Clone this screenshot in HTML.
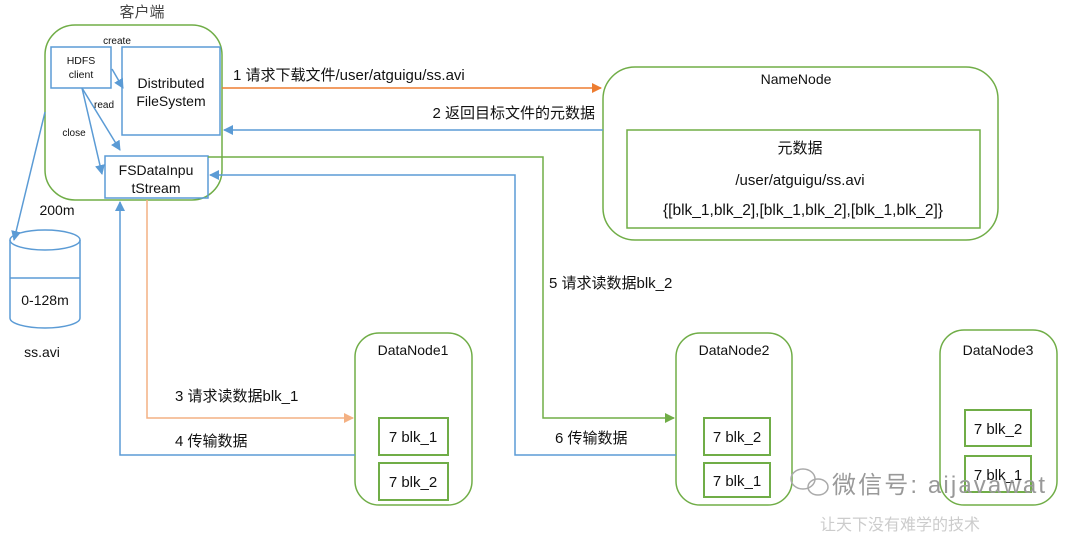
<!DOCTYPE html>
<html><head><meta charset="utf-8"><style>
body{margin:0;background:#fff;width:1080px;height:533px;overflow:hidden}
text{font-family:"Liberation Sans","Noto Sans CJK SC",sans-serif;fill:#111}
</style></head><body>
<svg width="1080" height="533" viewBox="0 0 1080 533">
<defs>
<marker id="b" markerWidth="10" markerHeight="10" refX="9" refY="5" orient="auto" markerUnits="userSpaceOnUse"><path d="M0,0L10,5L0,10z" fill="#5b9bd5"/></marker>
<marker id="o" markerWidth="10" markerHeight="10" refX="9" refY="5" orient="auto" markerUnits="userSpaceOnUse"><path d="M0,0L10,5L0,10z" fill="#ed7d31"/></marker>
<marker id="lo" markerWidth="10" markerHeight="10" refX="9" refY="5" orient="auto" markerUnits="userSpaceOnUse"><path d="M0,0L10,5L0,10z" fill="#f4b183"/></marker>
<marker id="g" markerWidth="10" markerHeight="10" refX="9" refY="5" orient="auto" markerUnits="userSpaceOnUse"><path d="M0,0L10,5L0,10z" fill="#70ad47"/></marker>
</defs>
<g fill="none" stroke-width="1.5">
<rect x="45" y="25" width="177" height="175" rx="30" stroke="#70ad47"/>
<rect x="51" y="47" width="60" height="41" stroke="#5b9bd5"/>
<rect x="122" y="47" width="98" height="88" stroke="#5b9bd5"/>
<rect x="105" y="156" width="103" height="42" stroke="#5b9bd5"/>
<rect x="603" y="67" width="395" height="173" rx="32" stroke="#70ad47"/>
<rect x="627" y="130" width="353" height="98" stroke="#70ad47"/>
<rect x="355" y="333" width="117" height="172" rx="24" stroke="#70ad47"/>
<rect x="676" y="333" width="116" height="172" rx="24" stroke="#70ad47"/>
<rect x="940" y="330" width="117" height="175" rx="24" stroke="#70ad47"/>
<rect x="379" y="418" width="69" height="37" stroke="#70ad47" stroke-width="2"/>
<rect x="379" y="463" width="69" height="37" stroke="#70ad47" stroke-width="2"/>
<rect x="704" y="418" width="66" height="37" stroke="#70ad47" stroke-width="2"/>
<rect x="704" y="463" width="66" height="34" stroke="#70ad47" stroke-width="2"/>
<rect x="965" y="410" width="66" height="36" stroke="#70ad47" stroke-width="2"/>
<rect x="965" y="456" width="66" height="36" stroke="#70ad47" stroke-width="2"/>
<path d="M10,240 V318 A35,10 0 0 0 80,318 V240" stroke="#5b9bd5"/>
<ellipse cx="45" cy="240" rx="35" ry="10" stroke="#5b9bd5"/>
<path d="M10,278 H80" stroke="#5b9bd5"/>
<path d="M112,69 L123,88" stroke="#5b9bd5" marker-end="url(#b)"/>
<path d="M82,88 L120,150" stroke="#5b9bd5" marker-end="url(#b)"/>
<path d="M82,88 L102,174" stroke="#5b9bd5" marker-end="url(#b)"/>
<path d="M45,112 L14,240" stroke="#5b9bd5" marker-end="url(#b)"/>
<path d="M222,88 H601" stroke="#ed7d31" marker-end="url(#o)"/>
<path d="M603,130 H224" stroke="#5b9bd5" marker-end="url(#b)"/>
<path d="M208,157 H543 V418 H674" stroke="#70ad47" marker-end="url(#g)"/>
<path d="M676,455 H515 V175 H210" stroke="#5b9bd5" marker-end="url(#b)"/>
<path d="M147,200 V418 H353" stroke="#f4b183" marker-end="url(#lo)"/>
<path d="M355,455 H120 V202" stroke="#5b9bd5" marker-end="url(#b)"/>
</g>
<text x="142" y="17" font-size="15" text-anchor="middle" style="fill:#444">客户端</text>
<text x="117" y="44" font-size="10" text-anchor="middle">create</text>
<text x="81" y="64" font-size="10.5" text-anchor="middle">HDFS</text>
<text x="81" y="78" font-size="10.5" text-anchor="middle">client</text>
<text x="171" y="88" font-size="14" text-anchor="middle">Distributed</text>
<text x="171" y="106" font-size="14" text-anchor="middle">FileSystem</text>
<text x="104" y="108" font-size="10" text-anchor="middle">read</text>
<text x="74" y="136" font-size="10" text-anchor="middle">close</text>
<text x="156" y="175" font-size="14" text-anchor="middle">FSDataInpu</text>
<text x="156" y="193" font-size="14" text-anchor="middle">tStream</text>
<text x="57" y="215" font-size="14" text-anchor="middle">200m</text>
<text x="45" y="305" font-size="14" text-anchor="middle">0-128m</text>
<text x="42" y="357" font-size="14" text-anchor="middle">ss.avi</text>
<text x="233" y="80" font-size="15">1 请求下载文件/user/atguigu/ss.avi</text>
<text x="595" y="118" font-size="15" text-anchor="end">2 返回目标文件的元数据</text>
<text x="796" y="84" font-size="14" text-anchor="middle">NameNode</text>
<text x="800" y="153" font-size="15" text-anchor="middle">元数据</text>
<text x="800" y="185" font-size="15" text-anchor="middle">/user/atguigu/ss.avi</text>
<text x="803" y="215" font-size="15.5" text-anchor="middle">{[blk_1,blk_2],[blk_1,blk_2],[blk_1,blk_2]}</text>
<text x="549" y="288" font-size="15">5 请求读数据blk_2</text>
<text x="555" y="443" font-size="15">6 传输数据</text>
<text x="175" y="401" font-size="15">3 请求读数据blk_1</text>
<text x="175" y="446" font-size="15">4 传输数据</text>
<text x="413" y="355" font-size="14" text-anchor="middle">DataNode1</text>
<text x="734" y="355" font-size="14" text-anchor="middle">DataNode2</text>
<text x="998" y="355" font-size="14" text-anchor="middle">DataNode3</text>
<text x="413" y="442" font-size="15" text-anchor="middle">7 blk_1</text>
<text x="413" y="487" font-size="15" text-anchor="middle">7 blk_2</text>
<text x="737" y="442" font-size="15" text-anchor="middle">7 blk_2</text>
<text x="737" y="486" font-size="15" text-anchor="middle">7 blk_1</text>
<text x="998" y="434" font-size="15" text-anchor="middle">7 blk_2</text>
<text x="998" y="480" font-size="15" text-anchor="middle">7 blk_1</text>
<g fill="none" stroke="#aaa" stroke-width="1.5"><ellipse cx="803" cy="479" rx="12" ry="10"/><ellipse cx="818" cy="487" rx="10" ry="8"/></g>
<text x="832" y="493" font-size="24" style="fill:#999" textLength="213">微信号: aijavawat</text>
<text x="820" y="530" font-size="16" style="fill:#ccc">让天下没有难学的技术</text>
</svg>
</body></html>
